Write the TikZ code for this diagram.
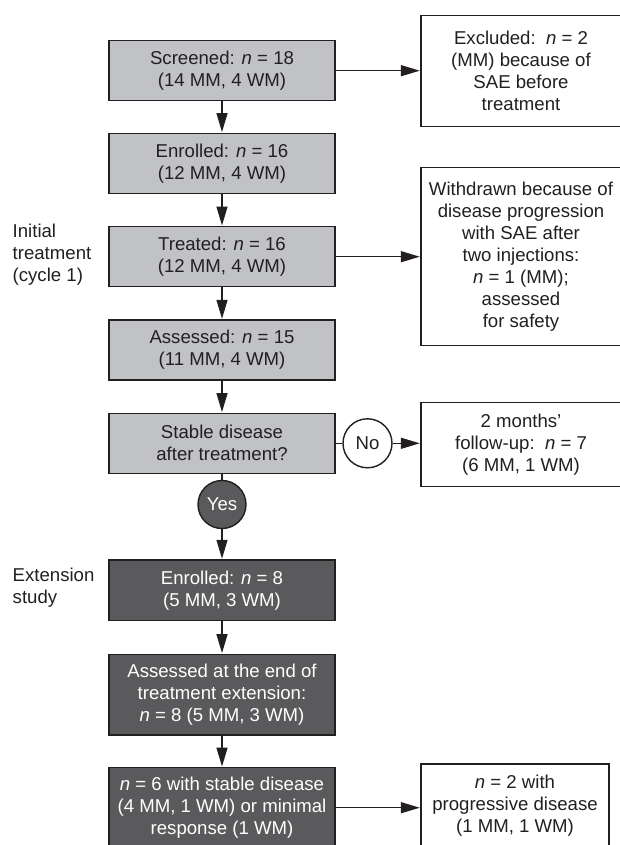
\documentclass[tikz,border=0pt]{standalone}
\usepackage{fontspec}
\setmainfont{Liberation Sans}
\usetikzlibrary{arrows.meta}
\definecolor{cLight}{HTML}{C1C2C6}
\definecolor{cDark}{HTML}{5A5A5C}
\definecolor{cInk}{HTML}{231F20}
\tikzset{
  base/.style={draw=cInk, line width=1.4pt, align=center, inner sep=0pt,
    font=\fontsize{18.6pt}{22pt}\selectfont},
  lightstep/.style={base, fill=cLight, text=cInk, minimum width=226pt},
  darkstep/.style={base, fill=cDark, text=white, minimum width=226pt},
  sidebox/.style={base, fill=white, text=cInk, minimum width=200pt},
  nocirc/.style={base, circle, fill=white, text=cInk, minimum size=49pt},
  yescirc/.style={base, circle, fill=cDark, text=white, minimum size=48pt},
  sidelabel/.style={align=left, inner sep=0pt, text=cInk,
    font=\fontsize{18.6pt}{22.3pt}\selectfont},
  arr/.style={draw=cInk, line width=1.4pt, -{Triangle[length=19pt,width=11pt]}, shorten >=0.5pt},
  plain/.style={draw=cInk, line width=1.4pt}
}
\begin{document}
\begin{tikzpicture}[x=1pt,y=-1pt]
\useasboundingbox (0,0) rectangle (620,845);
\clip (0,0) rectangle (620,845);
% main column
\node[lightstep, minimum height=60pt] (scr) at (222,70.7) {Screened: \textit{n} = 18\\(14 MM, 4 WM)};
\node[lightstep, minimum height=60pt] (enr) at (222,163.3) {Enrolled: \textit{n} = 16\\(12 MM, 4 WM)};
\node[lightstep, minimum height=60pt] (trt) at (222,256.7) {Treated: \textit{n} = 16\\(12 MM, 4 WM)};
\node[lightstep, minimum height=60pt] (ass) at (222,350) {Assessed: \textit{n} = 15\\(11 MM, 4 WM)};
\node[lightstep, minimum height=60pt] (stab) at (222,443.3) {Stable disease\\after treatment?};
\node[yescirc] (yes) at (222,504.5) {Yes};
\node[darkstep, minimum height=60.7pt] (enr2) at (222,590.3) {Enrolled: \textit{n} = 8\\(5 MM, 3 WM)};
\node[darkstep, minimum height=80.7pt] (ass2) at (222,694.7) {Assessed at the end of\\treatment extension:\\\textit{n} = 8 (5 MM, 3 WM)};
\node[darkstep, minimum height=80.3pt] (six) at (222,807.9) {\textit{n} = 6 with stable disease\\(4 MM, 1 WM) or minimal\\response (1 WM)};
% side boxes
\node[sidebox, minimum height=111pt] (excl) at (521,70.8) {Excluded:\ \ \textit{n} = 2\\(MM) because of\\SAE before\\treatment};
\node[sidebox, minimum height=178.4pt] (wd) at (521,256.5) {Withdrawn because of\\disease progression\\with SAE after\\two injections:\\\textit{n} = 1 (MM);\\assessed\\for safety};
\node[nocirc] (no) at (367.5,443.3) {No};
\node[sidebox, minimum height=84pt] (fu) at (521,444.7) {2 months'\\follow-up:\ \ \textit{n} = 7\\(6 MM, 1 WM)};
\node[sidebox, minimum width=188pt, minimum height=84pt] (pd) at (515,806) {\textit{n} = 2 with\\progressive disease\\(1 MM, 1 WM)};
% side labels
\node[sidelabel, anchor=west] (lab1) at (12.5,254.6) {Initial\\treatment\\(cycle 1)};
\node[sidelabel, anchor=west] (lab2) at (12.5,587.5) {Extension\\study};
% connectors
\draw[arr] (scr) -- (enr);
\draw[arr] (enr) -- (trt);
\draw[arr] (trt) -- (ass);
\draw[arr] (ass) -- (stab);
\draw[plain] (stab) -- (yes);
\draw[arr] (yes) -- (enr2);
\draw[arr] (enr2) -- (ass2);
\draw[arr] (ass2) -- (six);
\draw[arr] (scr.east) -- (scr.east -| excl.west);
\draw[arr] (trt.east) -- (trt.east -| wd.west);
\draw[plain] (stab.east) -- (no.west);
\draw[arr] (no.east) -- (no.east -| fu.west);
\draw[arr] (six.east |- 0,807.7) -- (pd.west |- 0,807.7);
\end{tikzpicture}
\end{document}
